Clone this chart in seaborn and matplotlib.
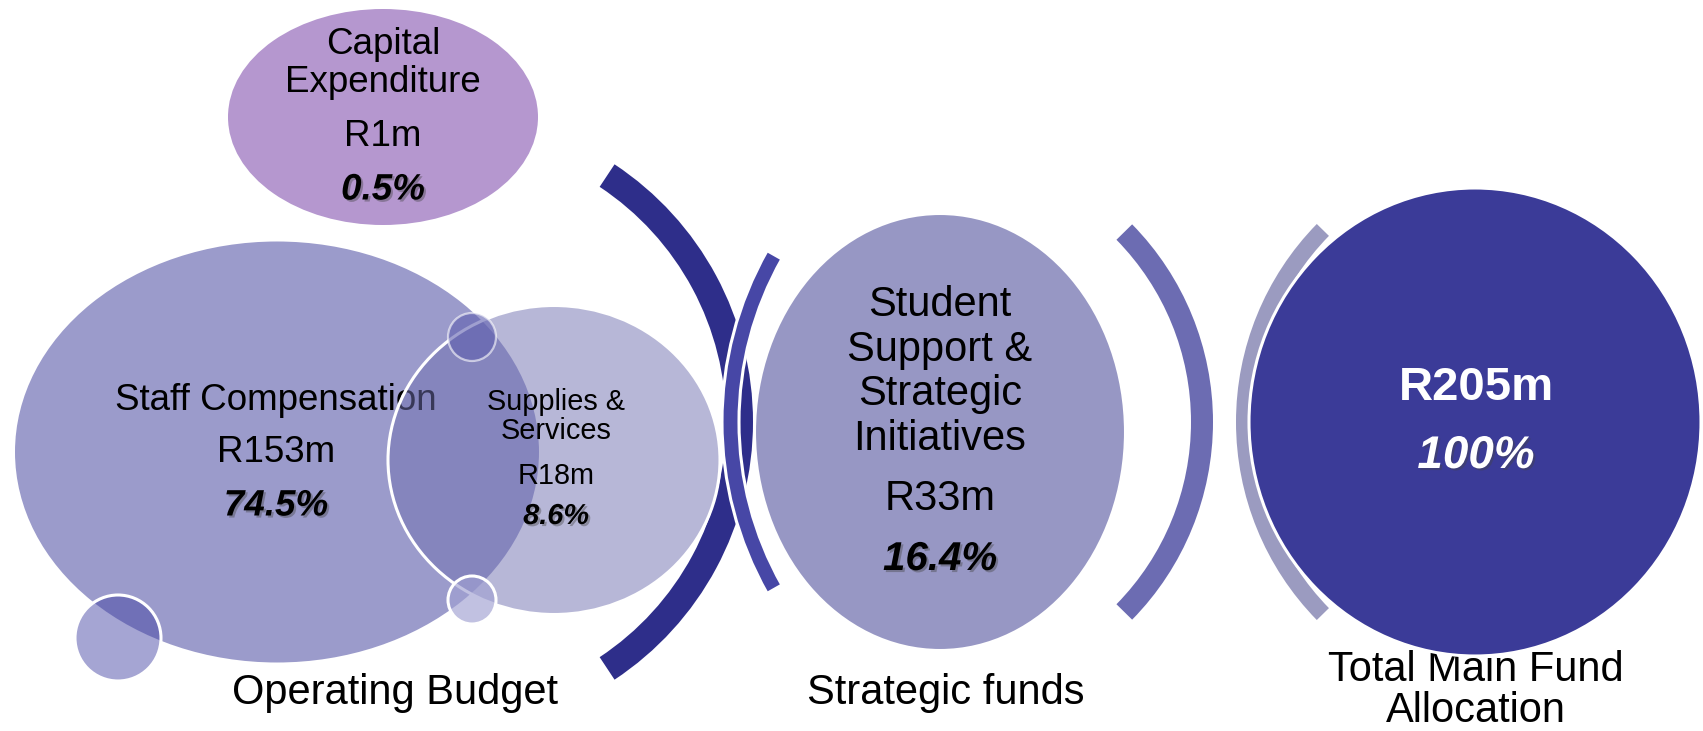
"""Main fund allocation diagram: operating budget, strategic funds and total."""

import matplotlib.pyplot as plt
import matplotlib.patheffects as pe
from matplotlib.patches import Circle, Ellipse, Wedge
import seaborn as sns

# data
items = ["Capital\nExpenditure", "Staff Compensation", "Supplies &\nServices",
         "Student\nSupport &\nStrategic\nInitiatives"]
amounts = ["R1m", "R153m", "R18m", "R33m"]
shares = [0.5, 74.5, 8.6, 16.4]
total_amount = "R205m"
total_share = 100
groups = ["Operating Budget", "Strategic funds", "Total Main Fund\nAllocation"]

W, H = 1703, 731

sns.set_theme(style="white")
plt.rcParams["font.family"] = ["Liberation Sans", "DejaVu Sans"]
plt.rcParams["text.color"] = "black"

fig = plt.figure(figsize=(W / 100, H / 100), dpi=100)
ax = fig.add_axes([0, 0, 1, 1])
ax.set_xlim(0, W)
ax.set_ylim(H, 0)
ax.axis("off")

shadow = [pe.SimplePatchShadow(offset=(1.5, -1.5), shadow_rgbFace="#444444", alpha=0.4),
          pe.Normal()]


def lines(x, ys, text, size, z=5, **kw):
    for y, line in zip(ys, text.split("\n")):
        ax.text(x, y, line, ha="center", va="center", fontsize=size, zorder=z,
                color="black", **kw)


def share_text(x, y, value, size, color="black"):
    ax.text(x, y, f"{value:g}%", ha="center", va="center", fontsize=size,
            fontweight="bold", fontstyle="italic", color=color, zorder=6,
            path_effects=shadow)


white_edge = dict(edgecolor="white", linewidth=2.2)

# capital expenditure
ax.add_patch(Ellipse((383, 117), 310, 216, facecolor="#B597CF", linewidth=0, zorder=1))
lines(383, [44, 83], items[0], 26.5)
lines(383, [137], amounts[0], 26.5)
share_text(383, 190, shares[0], 26.5)

# staff compensation
ax.add_patch(Ellipse((277, 452), 524, 421, facecolor="#9B9BCB", linewidth=0, zorder=1))
lines(276, [400], items[1], 26.5, z=2)
lines(276, [453], amounts[1], 26.5)
share_text(276, 506, shares[1], 26.5)

# supplies & services (translucent, on top of staff)
ax.add_patch(Ellipse((554, 460), 332, 309, facecolor=(113 / 255, 113 / 255, 177 / 255, 0.5),
                     zorder=3, **white_edge))
lines(556, [402, 431], items[2], 20.8)
lines(556, [476], amounts[2], 20.8)
share_text(556, 516, shares[2], 20.8)

# decorative bubbles
ax.add_patch(Circle((472, 337), 24, facecolor=(95 / 255, 95 / 255, 175 / 255, 0.6),
                    edgecolor=(1, 1, 1, 0.6), linewidth=1.6, zorder=4))
ax.add_patch(Circle((472, 600), 24, facecolor=(160 / 255, 160 / 255, 210 / 255, 0.65),
                    edgecolor="white", linewidth=2.2, zorder=4))
ax.add_patch(Circle((118, 638), 43, facecolor=(67 / 255, 67 / 255, 163 / 255, 0.48),
                    edgecolor="white", linewidth=2.2, zorder=4))

# arcs between groups
ax.add_patch(Wedge((444, 422), 309, -56.5, 56.5, width=27, facecolor="#2E2E8A",
                   linewidth=0, zorder=1))
ax.add_patch(Wedge((1070, 422), 348, 150.5, 209.5, width=17, facecolor="#4747A6",
                   zorder=3, **white_edge))
ax.add_patch(Wedge((931, 422), 282, -44.5, 44.5, width=22, facecolor="#6C6CB2",
                   linewidth=0, zorder=1))
ax.add_patch(Wedge((1519, 422), 283, 135.6, 224.4, width=17, facecolor="#9B9BC0",
                   linewidth=0, zorder=1))

# strategic funds
ax.add_patch(Ellipse((940, 432), 371, 437, facecolor="#9797C4", zorder=2, **white_edge))
lines(940, [305, 350, 394, 439], items[3], 30)
lines(940, [499], amounts[3], 30)
share_text(940, 559, shares[3], 29)

# total
ax.add_patch(Ellipse((1475, 422), 452, 468, facecolor="#3B3B98", zorder=3, **white_edge))
ax.text(1476, 388, total_amount, ha="center", va="center", fontsize=34,
        fontweight="bold", color="white", zorder=6)
share_text(1476, 456, total_share, 33, color="white")

# group labels (the total label sits partly under the circle, as in the original)
lines(395, [693], groups[0], 30, z=2)
lines(946, [693], groups[1], 30, z=2)
lines(1476, [670, 711], groups[2], 30, z=2)

fig.savefig("out.png", dpi=100)
plt.close(fig)
